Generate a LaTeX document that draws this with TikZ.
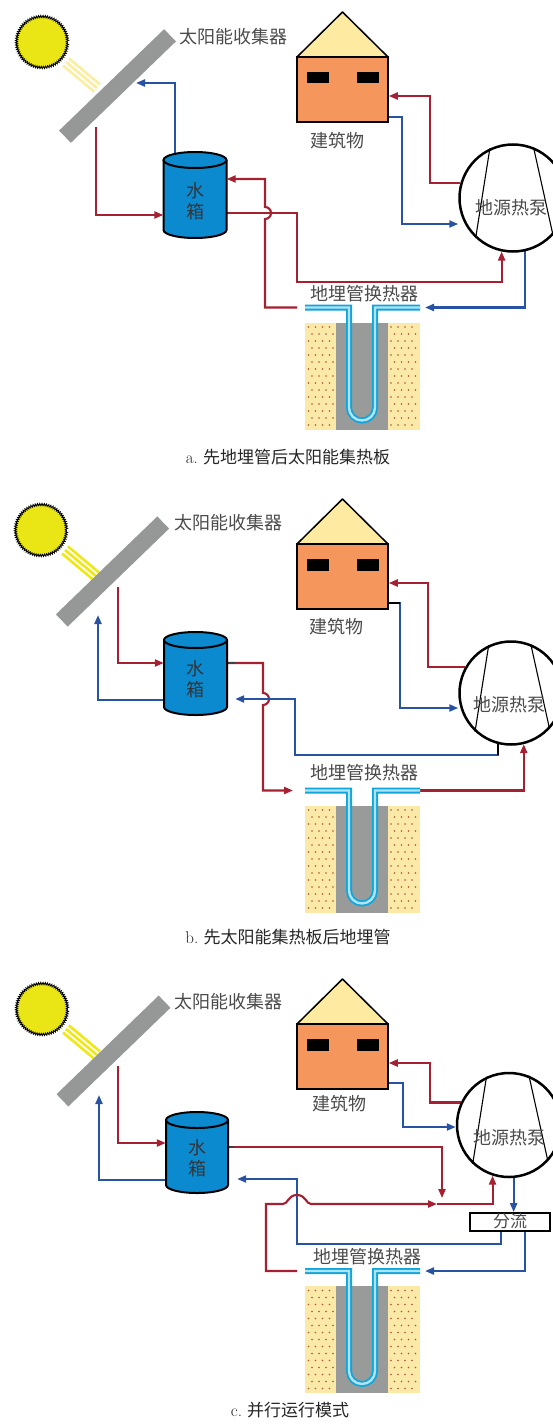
\documentclass[tikz,border=0pt]{standalone}
\usepackage{fontspec}
\newfontfamily\cjk{Noto Sans CJK SC}
\usetikzlibrary{arrows.meta,calc,decorations.pathmorphing}

\definecolor{flowred}{RGB}{165,32,48}
\definecolor{flowblue}{RGB}{40,82,162}
\definecolor{tankblue}{RGB}{12,138,208}
\definecolor{bodyorange}{RGB}{245,150,92}
\definecolor{roofyellow}{RGB}{254,234,160}
\definecolor{panelgray}{RGB}{150,152,152}
\definecolor{sunyellow}{RGB}{234,230,22}
\definecolor{raypale}{RGB}{250,238,160}
\definecolor{raybright}{RGB}{240,232,20}
\definecolor{soil}{RGB}{251,233,168}
\definecolor{soildot}{RGB}{175,85,60}
\definecolor{boregray}{RGB}{153,155,155}
\definecolor{pipecyan}{RGB}{18,165,218}
\definecolor{pipelight}{RGB}{175,228,246}
\definecolor{labelgray}{RGB}{75,75,75}

\pgfdeclarelayer{back}
\pgfdeclarelayer{flow}
\pgfsetlayers{back,flow,main}

% sun with its three rays
\newcommand\sunAt[3]{%
  \foreach \o in {-4.6,0,4.6}
    \draw[#3, line width=2.6pt] ($(#2)+(24,20)+({0.63*\o},{-0.78*(\o)})$) -- ++(31,26);
  \node[sunball] (#1) at (#2) {};
  \draw[line width=0.9pt, decorate, decoration={zigzag,segment length=2.2pt,amplitude=1.1pt}] (#1.center) circle (25.5pt);
}
% water tank: name, centre x, top y, bottom y, x radius
\newcommand\tankAt[5]{%
  \fill[tankblue] (#2-#5,#3) rectangle (#2+#5,#4);
  \fill[tankblue] (#2,#4) ellipse [x radius=#5pt, y radius=8pt];
  \draw[line width=2pt] (#2-#5,#3) -- (#2-#5,#4) arc[start angle=180,end angle=360,x radius=#5pt,y radius=8pt] -- (#2+#5,#3);
  \filldraw[fill=tankblue, line width=2pt] (#2,#3) ellipse [x radius=#5pt, y radius=8pt];
  \node[inner sep=0, minimum width={2*#5pt}, minimum height={(#4-#3)*1pt}] (#1) at (#2,{(#3+#4)/2}) {};
  \node[tanktext] (#1txt) at (#2,{(#3+#4)/2+6}) {水\\箱};
}
% building: name, roof apex y
\newcommand\houseAt[2]{%
  \filldraw[fill=roofyellow, line width=1.5pt, line join=round] (297,#2+45) -- (342.5,#2) -- (388,#2+45) -- cycle;
  \node[housebox] (#1) at (342.5,#2+77.5) {};
  \fill (307,#2+60) rectangle (329,#2+71.5);
  \fill (357,#2+60) rectangle (379,#2+71.5);
}
% ground source heat pump: name, centre, diameter
\newcommand\pumpAt[3]{%
  \node[pumpcircle, minimum size=#3pt] (#1) at (#2) {};
  \draw[line width=1.1pt] (#1.115) -- (#1.227) (#1.68) -- (#1.317);
}
% borehole heat exchanger: name, pipe level y
\newcommand\groundAt[2]{%
  \fill[soil] (305,#2+15) rectangle (420,#2+122);
  \foreach \i in {0,...,14}{\foreach \j in {0,...,3}{%
    \fill[soildot] ({308.5+7*\j+3.5*mod(\i,2)},{#2+19.5+7*\i}) circle (0.95pt);
    \fill[soildot] ({391+7*\j+3.5*mod(\i,2)},{#2+19.5+7*\i}) circle (0.95pt);}}
  \node[borebox] (#1) at (362,#2+68.5) {};
  \draw[pipecyan, line width=6pt] (305,#2) -- (349,#2) -- (349,#2+100) arc[start angle=180,end angle=360,radius=13pt] -- (375,#2) -- (420,#2);
  \draw[pipelight, line width=2.4pt] (305,#2) -- (349,#2) -- (349,#2+100) arc[start angle=180,end angle=360,radius=13pt] -- (375,#2) -- (420,#2);
  \coordinate (#1-l) at (305,#2);
  \coordinate (#1-r) at (420,#2);
}

\begin{document}
\begin{tikzpicture}[x=1pt,y=-1pt,
  flowR/.style={draw=flowred, line width=2.1pt},
  flowB/.style={draw=flowblue, line width=2.1pt},
  tip/.style={-{Triangle[length=9pt,width=7pt]}},
  sunball/.style={circle, fill=sunyellow, minimum size=50pt, inner sep=0},
  panelbar/.style={rectangle, fill=panelgray, minimum height=17pt, inner sep=0},
  housebox/.style={rectangle, draw, line width=1.5pt, fill=bodyorange, minimum width=91pt, minimum height=65pt, inner sep=0},
  pumpcircle/.style={circle, draw, line width=2.5pt, fill=white, inner sep=0},
  borebox/.style={rectangle, fill=boregray, minimum width=52pt, minimum height=107pt, inner sep=0},
  splitbox/.style={rectangle, draw, line width=1.8pt, fill=white, minimum width=80pt, minimum height=18pt, inner sep=0, text height=13pt, text depth=3pt, font=\cjk\fontsize{17}{19}\selectfont, text=labelgray},
  lbl/.style={inner sep=0, font=\cjk\fontsize{18}{20}\selectfont, text=labelgray},
  tanktext/.style={inner sep=0, align=center, font=\cjk\fontsize{18}{21}\selectfont, text=black!80},
  captxt/.style={inner sep=0, font=\fontsize{17}{19}\selectfont, text=black!85}]

\useasboundingbox (0,0) rectangle (553,1426);
\clip (0,0) rectangle (553,1426);
\begin{pgfonlayer}{back}
  \fill[white] (0,0) rectangle (553,1426);
\end{pgfonlayer}

%% ---------------- a: ground loop first, then solar collector
\sunAt{sunA}{42,42}{raypale}
\node[panelbar, minimum width=146pt, rotate=44] (colA) at (117.5,86) {};
\node[lbl, anchor=west] (colAtxt) at (179,37) {太阳能收集器};
\tankAt{tankA}{195}{160}{230}{31.5}
\houseAt{houseA}{12}
\node[lbl] (houseAtxt) at (337,141) {建筑物};
\pumpAt{pumpA}{513,198}{107}
\node[lbl] (pumpAtxt) at (511,208) {地源热泵};
\groundAt{gA}{307.5}
\node[lbl] (gAtxt) at (364,294) {地埋管换热器};
\node[captxt] (capA) at (288,457) {a.\ \cjk 先地埋管后太阳能集热板};
\coordinate (colAin) at (136,83);
\coordinate (colAout) at (96,127);

\begin{pgfonlayer}{flow}
\draw[flowB, tip] (tankA.north -| 175,0) -- (175,83) -- (colAin);
\draw[flowR, tip] (colAout) |- (tankA.west |- 0,215);
\draw[flowR, tip] ($(gA-l)+(-8,0)$) -- (265,307.5) -- (265,219) arc[start angle=-90,end angle=90,radius=6pt] -- (265,179) -- (tankA.east |- 0,179);
\draw[flowR, tip] (tankA.east |- 0,213) -- (297,213) -- (297,282) -| (pumpA.258);
\draw[flowB, tip] (pumpA.283) |- ($(gA-r)+(5,0)$);
\draw[flowR, tip] (pumpA.164) -| (430,96) -- (houseA.east |- 0,96);
\draw[flowB, tip] (houseA.east |- 0,117) -- (402,117) |- (pumpA.west |- 0,224);
\end{pgfonlayer}

%% ---------------- b: solar collector first, then ground loop
\sunAt{sunB}{41,530}{raybright}
\node[panelbar, minimum width=141pt, rotate=44] (colB) at (112.5,571.5) {};
\node[lbl, anchor=west] (colBtxt) at (174,523) {太阳能收集器};
\tankAt{tankB}{195.5}{640}{707}{31.5}
\houseAt{houseB}{499}
\node[lbl] (houseBtxt) at (336,627) {建筑物};
\pumpAt{pumpB}{511,693}{103}
\node[lbl] (pumpBtxt) at (509,705) {地源热泵};
\groundAt{gB}{790.5}
\node[lbl] (gBtxt) at (364,773) {地埋管换热器};
\node[captxt] (capB) at (288,937) {b.\ \cjk 先太阳能集热板后地埋管};
\coordinate (colBin) at (98,615);
\coordinate (colBout) at (118,587);

\begin{pgfonlayer}{flow}
\draw[flowR, tip] (colBout) |- (tankB.west |- 0,663);
\draw[flowB, tip] (tankB.west |- 0,700) -| (colBin);
\draw[flowR, tip] (tankB.east |- 0,663) -- (263,663) -- (263,693) arc[start angle=90,end angle=-90,radius=6pt] -- (263,790.5) -- ($(gB-l)+(-12,0)$);
\draw[black!75, line width=2.1pt] (tankB.east |- 0,663) -- ++(8,0);
\draw[flowB, tip] (pumpB.256) -- ++(0,11) -| (295,699) -- ($(tankB.east |- 0,699)+(8,0)$);
\draw[line width=2.1pt] (pumpB.256) -- ++(0,11);
\draw[flowR, tip] (gB-r) -| (pumpB.284);
\draw[flowR, tip] (pumpB.151) -| (428,583) -- (houseB.east |- 0,583);
\draw[flowB, tip] (houseB.east |- 0,603) -- (400,603) |- (pumpB.west |- 0,708);
\draw[line width=2.1pt] (houseB.east |- 0,603) -- (400,603);
\end{pgfonlayer}

%% ---------------- c: parallel operation
\sunAt{sunC}{42,1009}{raybright}
\node[panelbar, minimum width=142pt, rotate=44] (colC) at (113.5,1051) {};
\node[lbl, anchor=west] (colCtxt) at (174,1002) {太阳能收集器};
\tankAt{tankC}{197}{1120}{1185}{31}
\houseAt{houseC}{979}
\node[lbl] (houseCtxt) at (339,1104) {建筑物};
\pumpAt{pumpC}{509,1125}{104}
\node[lbl] (pumpCtxt) at (509,1138) {地源热泵};
\node[splitbox] (split) at (510,1222) {分流};
\groundAt{gC}{1271}
\node[lbl] (gCtxt) at (367,1257) {地埋管换热器};
\node[captxt] (capC) at (290,1410) {c.\ \cjk 并行运行模式};
\coordinate (colCin) at (99,1095);
\coordinate (colCout) at (118,1066);
\coordinate (mergeC) at (437,1204);

\begin{pgfonlayer}{flow}
\draw[flowR, tip] (colCout) |- (tankC.west |- 0,1143);
\draw[flowB, tip] (tankC.west |- 0,1180) -| (colCin);
\draw[flowR, tip] (tankC.east |- 0,1147) -| (442,1198);
\draw[black!75, line width=2.1pt] (tankC.east |- 0,1147) -- ++(6,0);
\draw[flowB, tip] (split.south -| 501,0) -- (501,1244) -| (297,1179) -- ($(tankC.east |- 0,1179)+(9,0)$);
\draw[flowR, tip] ($(gC-l)+(-8,0)$) -| (266,1204) -- (283,1204) .. controls (288,1204) and (288,1195) .. (297,1195) .. controls (306,1195) and (306,1204) .. (311,1204) -- (mergeC);
\draw[flowR, tip] (mergeC) -| (pumpC.252);
\draw[flowB, tip] (pumpC.275) -- (pumpC.275 |- split.north);
\draw[flowB, tip] (split.south -| 525,0) |- ($(gC-r)+(5,0)$);
\draw[flowR, tip] (pumpC.155) -| (430,1063) -- (houseC.east |- 0,1063);
\draw[flowB, tip] (houseC.east |- 0,1083) -- (403,1083) |- (pumpC.west |- 0,1127);
\end{pgfonlayer}
\end{tikzpicture}
\end{document}
